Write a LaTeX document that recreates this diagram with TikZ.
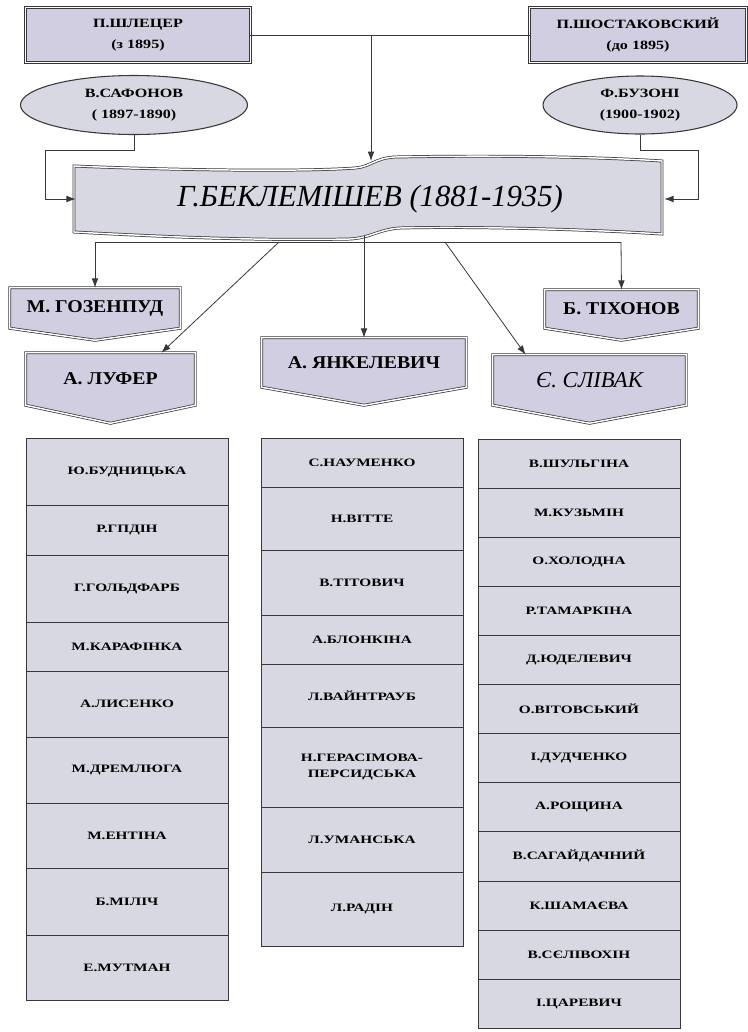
\documentclass[tikz,border=0pt]{standalone}
\usepackage{fontspec}
\setmainfont{Liberation Serif}
\newfontfamily\labfont{Liberation Serif}[FakeStretch=1.27]
\newfontfamily\tabfont{Liberation Serif}[FakeStretch=1.35]
\newfontfamily\pentfont{Liberation Serif}[FakeStretch=1.1]
\usetikzlibrary{arrows.meta,calc,backgrounds,shapes.geometric}
\definecolor{cellfill}{RGB}{216,216,226}
\definecolor{boxfill}{RGB}{208,206,224}
\definecolor{inkline}{RGB}{55,55,60}

\begin{document}
\begin{tikzpicture}[x=0.75pt, y=-0.75pt,
  dbl/.style={draw=inkline, line width=0.55pt, double=white, double distance=1.1pt},
  topbox/.style={rectangle, align=center, inner sep=0pt,
    font=\labfont\bfseries\fontsize{9.5}{16}\selectfont},
  oval/.style={ellipse, draw=inkline, line width=0.8pt, fill=cellfill, align=center, inner sep=0pt,
    font=\labfont\bfseries\fontsize{9.5}{16}\selectfont},
  pentlabel/.style={rectangle, inner sep=0pt, font=\pentfont\bfseries\fontsize{13.5}{15}\selectfont},
  cell/.style={rectangle, draw=inkline, line width=0.6pt, fill=cellfill, minimum width=202*0.75pt,
    inner sep=0pt, align=center, font=\tabfont\bfseries\fontsize{8.5}{12}\selectfont},
  link/.style={draw=inkline, line width=0.6pt},
  arr/.style={link, -{Latex[length=7pt,width=5pt]}}
]
\useasboundingbox (0,0) rectangle (747,1032);

% teachers
\node[topbox, minimum width=224*0.75pt, minimum height=54*0.75pt] (shl) at (138,35) {П.ШЛЕЦЕР\\(з 1895)};
\node[topbox, minimum width=216*0.75pt, minimum height=54*0.75pt] (sho) at (638,35) {П.ШОСТАКОВСКИЙ\\(до 1895)};
\node[oval, minimum width=227*0.75pt, minimum height=59*0.75pt] (saf) at (134,105) {В.САФОНОВ\\( 1897-1890)};
\node[oval, minimum width=194*0.75pt, minimum height=58*0.75pt] (buz) at (640,105) {Ф.БУЗОНІ\\(1900-1902)};

% banner
\node[inner sep=0pt, minimum width=588*0.75pt, minimum height=66*0.75pt,
  font=\itshape\fontsize{23}{25}\selectfont] (bek) at (370,199) {Г.БЕКЛЕМІШЕВ (1881-1935)};

% pupils
\node[pentlabel, minimum width=170*0.75pt, minimum height=40*0.75pt] (goz) at (95,308) {М. ГОЗЕНПУД};
\node[pentlabel, minimum width=153*0.75pt, minimum height=38*0.75pt] (tix) at (621.5,309) {Б. ТІХОНОВ};
\node[pentlabel, minimum width=169*0.75pt, minimum height=52*0.75pt] (luf) at (110.5,379) {А. ЛУФЕР};
\node[pentlabel, minimum width=204*0.75pt, minimum height=49*0.75pt] (yan) at (364,362.5) {А. ЯНКЕЛЕВИЧ};
\node[pentlabel, minimum width=193*0.75pt, minimum height=50*0.75pt,
  font=\itshape\fontsize{17}{19}\selectfont] (sli) at (589.5,380) {Є. СЛІВАК};

\begin{scope}[on background layer]
\foreach \n in {shl, sho}
  \path[dbl, fill=boxfill] (\n.north west) rectangle (\n.south east);
\path[dbl, fill=cellfill] (74,166) .. controls (170,170) and (300,172) .. (355,168)
  .. controls (370,167) and (375,158) .. (395,157)
  .. controls (500,155) and (600,157) .. (662,161) -- (662,234)
  .. controls (600,230) and (480,226) .. (400,228)
  .. controls (380,229) and (370,238) .. (350,239)
  .. controls (250,241) and (150,236) .. (74,232) -- cycle;
\foreach \n/\d in {goz/12, tix/12, luf/18, yan/18, sli/18}
  \path[dbl, fill=boxfill] (\n.north west) -- (\n.north east) -- (\n.south east)
    -- ($(\n.south)+(0,\d)$) -- (\n.south west) -- cycle;
\end{scope}

% students of Lufer
\foreach \t/\b/\nm [count=\i] in {438/505/Ю.БУДНИЦЬКА, 505/555/Р.ГПДІН, 555/622/Г.ГОЛЬДФАРБ,
    622/671/М.КАРАФІНКА, 671/737/А.ЛИСЕНКО, 737/803/М.ДРЕМЛЮГА, 803/868/М.ЕНТІНА,
    868/935/Б.МІЛІЧ, 935/1000/Е.МУТМАН}
  \node[cell, minimum height={(\b-\t)*0.75pt}] (left\i) at (127,{(\t+\b)/2}) {\nm};

% students of Yankelevich
\foreach \t/\b/\nm [count=\i] in {438/487/С.НАУМЕНКО, 487/550/Н.ВІТТЕ, 550/615/В.ТІТОВИЧ,
    615/664/А.БЛОНКІНА, 664/727/Л.ВАЙНТРАУБ, 727/807/{Н.ГЕРАСІМОВА-\\ПЕРСИДСЬКА},
    807/872/Л.УМАНСЬКА, 872/946/Л.РАДІН}
  \node[cell, minimum height={(\b-\t)*0.75pt}] (mid\i) at (362,{(\t+\b)/2}) {\nm};

% students of Slivak
\foreach \nm [count=\i] in {В.ШУЛЬГІНА, М.КУЗЬМІН, О.ХОЛОДНА, Р.ТАМАРКІНА, Д.ЮДЕЛЕВИЧ,
    О.ВІТОВСЬКИЙ, І.ДУДЧЕНКО, А.РОЩИНА, В.САГАЙДАЧНИЙ, К.ШАМАЄВА, В.СЄЛІВОХІН, І.ЦАРЕВИЧ}
  \node[cell, minimum height=49.1*0.75pt] (right\i) at (579,{439+49.1*(\i-0.5)}) {\nm};

% links
\coordinate (joinTop) at (371,35);
\coordinate (bekTop) at (371,161);
\coordinate (safK) at (45,150);
\coordinate (buzK) at (698,150);
\coordinate (busL) at (95,242);
\coordinate (busR) at (621,242);
\coordinate (bekFoot) at (364,236);
\coordinate (footL) at (279,242);
\coordinate (footR) at (445,242);

\draw[link] (shl.east) -- (sho.west);
\draw[arr] (joinTop) -- (bekTop);
\draw[arr] (saf.south) |- (safK) |- (bek.west);
\draw[arr] (buz.south) |- (buzK) |- (bek.east);
\draw[link] (busL) -- (busR);
\draw[arr] (busL) -- (goz.north);
\draw[arr] (busR) -- (tix.north);
\draw[arr] (bekFoot) -- (yan);
\draw[arr] (footL) -- ($(luf.north west)!0.8!(luf.north east)$);
\draw[arr] (footR) -- ($(sli.north west)!0.17!(sli.north east)$);
\end{tikzpicture}
\end{document}
